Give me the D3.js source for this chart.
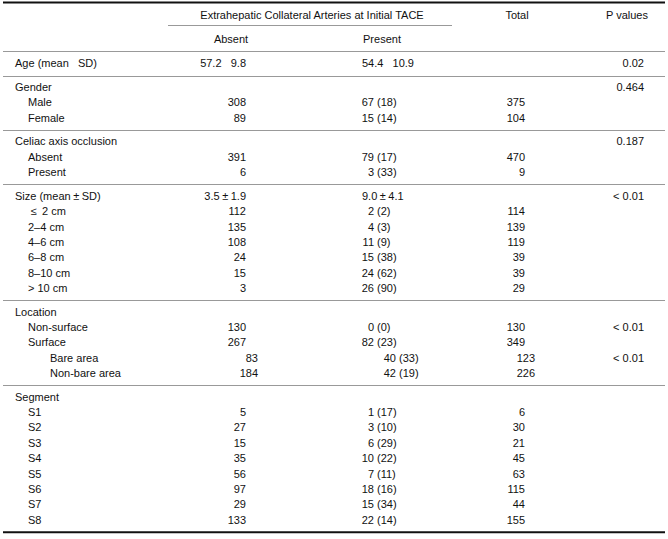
<!DOCTYPE html>
<html>
<head>
<meta charset="utf-8">
<style>
  body { margin: 0; background: #fff; }
  text { font-family: "Liberation Sans", Arial, sans-serif; font-size: 11px; fill: #111; white-space: pre; }
</style>
</head>
<body>
<svg id="chart" width="668" height="539"></svg>
<script src="https://cdn.jsdelivr.net/npm/d3@7/dist/d3.min.js"></script>
<script>
// table content
var headerMain = "Extrahepatic Collateral Arteries at Initial TACE";
var headerSub = ["Absent", "Present"];
var headerRight = ["Total", "P values"];

var groupSizes = [1, 3, 3, 7, 5, 9];

var rowLabels = [
  "Age (mean\u00a0\u00a0\u00a0SD)",
  "Gender", "Male", "Female",
  "Celiac axis occlusion", "Absent", "Present",
  "Size (mean\u00b1SD)", "\u2264 2 cm", "2\u20134 cm", "4\u20136 cm", "6\u20138 cm", "8\u201310 cm", "> 10 cm",
  "Location", "Non-surface", "Surface", "Bare area", "Non-bare area",
  "Segment", "S1", "S2", "S3", "S4", "S5", "S6", "S7", "S8"
];
var rowLevels = [0, 0, 1, 1, 0, 1, 1, 0, 1, 1, 1, 1, 1, 1, 0, 1, 1, 2, 2, 0, 1, 1, 1, 1, 1, 1, 1, 1];

var absentValues = [
  "57.2\u00a0\u00a0\u00a09.8",
  "", "308", "89",
  "", "391", "6",
  "3.5\u00b11.9", "112", "135", "108", "24", "15", "3",
  "", "130", "267", "83", "184",
  "", "5", "27", "15", "35", "56", "97", "29", "133"
];
var presentCounts = [
  "54.4\u00a0\u00a0\u00a010.9",
  "", "67", "15",
  "", "79", "3",
  "9.0\u00b14.1", "2", "4", "11", "15", "24", "26",
  "", "0", "82", "40", "42",
  "", "1", "3", "6", "10", "7", "18", "15", "22"
];
var presentPercents = [
  null,
  null, 18, 14,
  null, 17, 33,
  null, 2, 3, 9, 38, 62, 90,
  null, 0, 23, 33, 19,
  null, 17, 10, 29, 22, 11, 16, 34, 14
];
var totalValues = [
  null,
  null, 375, 104,
  null, 470, 9,
  null, 114, 139, 119, 39, 39, 29,
  null, 130, 349, 123, 226,
  null, 6, 30, 21, 45, 63, 115, 44, 155
];
var pValues = [
  "0.02",
  "0.464", "", "",
  "0.187", "", "",
  "< 0.01", "", "", "", "", "", "",
  "", "< 0.01", "", "< 0.01", "",
  "", "", "", "", "", "", "", "", ""
];

var svg = d3.select("#chart");
var W = 668;

// group index / slot for each row
var rows = [];
var k = 0;
groupSizes.forEach(function(n, g) {
  for (var i = 0; i < n; i++) {
    rows.push({ idx: k, group: g, first: i === 0, last: i === n - 1 });
    k++;
  }
});
var gapUnits = 0.544;
rows.forEach(function(r) { r.slot = r.idx + r.group * gapUnits; });

var y = d3.scaleLinear()
  .domain([0, 1])
  .range([63.5, 63.5 + 15.35]);

var x = d3.scaleOrdinal()
  .domain(["label", "absent", "present", "total", "p"])
  .range([15, 246, 374, 525, 644]);

var indent = [0, 13, 35];
var shiftLevel2 = { absent: 12, present: 22, total: 10 };

// writes a string, giving the wide symbols (± and ≤) some room like the source font
function fill(sel, str) {
  sel.text(null);
  var parts = String(str).split(/([\u00b1\u2264])/);
  var pad = 0;
  parts.forEach(function(p) {
    if (p === "") return;
    var t = sel.append("tspan").text(p);
    if (p === "\u00b1" || p === "\u2264") { t.attr("dx", 2.5); pad = 2.5; }
    else if (pad) { t.attr("dx", pad); pad = 0; }
  });
}

// rules
var topLine = 2.5, subLine = 51.5;
svg.append("line").attr("x1", 3).attr("x2", W - 3).attr("y1", topLine).attr("y2", topLine)
  .attr("stroke", "#111").attr("stroke-width", 2);
svg.append("line").attr("x1", 168).attr("x2", 452).attr("y1", 25.5).attr("y2", 25.5)
  .attr("stroke", "#999").attr("stroke-width", 1);
svg.append("line").attr("x1", 3).attr("x2", W - 3).attr("y1", subLine).attr("y2", subLine)
  .attr("stroke", "#999").attr("stroke-width", 1);

var lastRows = rows.filter(function(r) { return r.last; });
svg.selectAll("line.sep")
  .data(lastRows.slice(0, -1))
  .enter().append("line")
  .attr("class", "sep")
  .attr("x1", 3).attr("x2", W - 3)
  .attr("y1", function(r) { return Math.round(y(r.slot) + 12) + 0.5; })
  .attr("y2", function(r) { return Math.round(y(r.slot) + 12) + 0.5; })
  .attr("stroke", "#999").attr("stroke-width", 1);

var bottom = y(rows[rows.length - 1].slot) + 12.5;
svg.append("line").attr("x1", 3).attr("x2", W - 3).attr("y1", bottom).attr("y2", bottom)
  .attr("stroke", "#111").attr("stroke-width", 2);

// headers
svg.append("text").attr("x", 312).attr("y", 15.5).attr("dy", "0.35em")
  .attr("text-anchor", "middle").text(headerMain);
svg.selectAll("text.hsub")
  .data(headerSub)
  .enter().append("text")
  .attr("class", "hsub")
  .attr("x", function(d, i) { return [231, 382][i]; })
  .attr("y", 39).attr("dy", "0.35em")
  .attr("text-anchor", "middle")
  .text(function(d) { return d; });
svg.selectAll("text.hright")
  .data(headerRight)
  .enter().append("text")
  .attr("class", "hright")
  .attr("x", function(d, i) { return [517, 627][i]; })
  .attr("y", 15.5).attr("dy", "0.35em")
  .attr("text-anchor", "middle")
  .text(function(d) { return d; });

// body rows
var rowG = svg.selectAll("g.row")
  .data(rows)
  .enter().append("g")
  .attr("class", "row")
  .attr("transform", function(r) { return "translate(0," + y(r.slot) + ")"; });

rowG.append("text")
  .attr("x", function(r) { return x("label") + indent[rowLevels[r.idx]]; })
  .attr("dy", "0.35em")
  .each(function(r) { fill(d3.select(this), rowLabels[r.idx]); });

function sh(r, col) { return rowLevels[r.idx] === 2 ? shiftLevel2[col] : 0; }

rowG.append("text")
  .attr("x", function(r) { return x("absent") + sh(r, "absent"); })
  .attr("dy", "0.35em")
  .attr("text-anchor", "end")
  .each(function(r) { fill(d3.select(this), absentValues[r.idx]); });

// present: count right-aligned, percent left-aligned; mean strings left-aligned
rowG.append("text")
  .attr("x", function(r) {
    return presentPercents[r.idx] === null ? x("present") - 12 : x("present") + sh(r, "present");
  })
  .attr("dy", "0.35em")
  .attr("text-anchor", function(r) { return presentPercents[r.idx] === null ? "start" : "end"; })
  .each(function(r) { fill(d3.select(this), presentCounts[r.idx]); });

rowG.filter(function(r) { return presentPercents[r.idx] !== null; })
  .append("text")
  .attr("x", function(r) { return x("present") + 3 + sh(r, "present"); })
  .attr("dy", "0.35em")
  .text(function(r) { return "(" + presentPercents[r.idx] + ")"; });

rowG.filter(function(r) { return totalValues[r.idx] !== null; })
  .append("text")
  .attr("x", function(r) { return x("total") + sh(r, "total"); })
  .attr("dy", "0.35em")
  .attr("text-anchor", "end")
  .text(function(r) { return totalValues[r.idx]; });

rowG.append("text")
  .attr("x", x("p"))
  .attr("dy", "0.35em")
  .attr("text-anchor", "end")
  .text(function(r) { return pValues[r.idx]; });
</script>
</body>
</html>
